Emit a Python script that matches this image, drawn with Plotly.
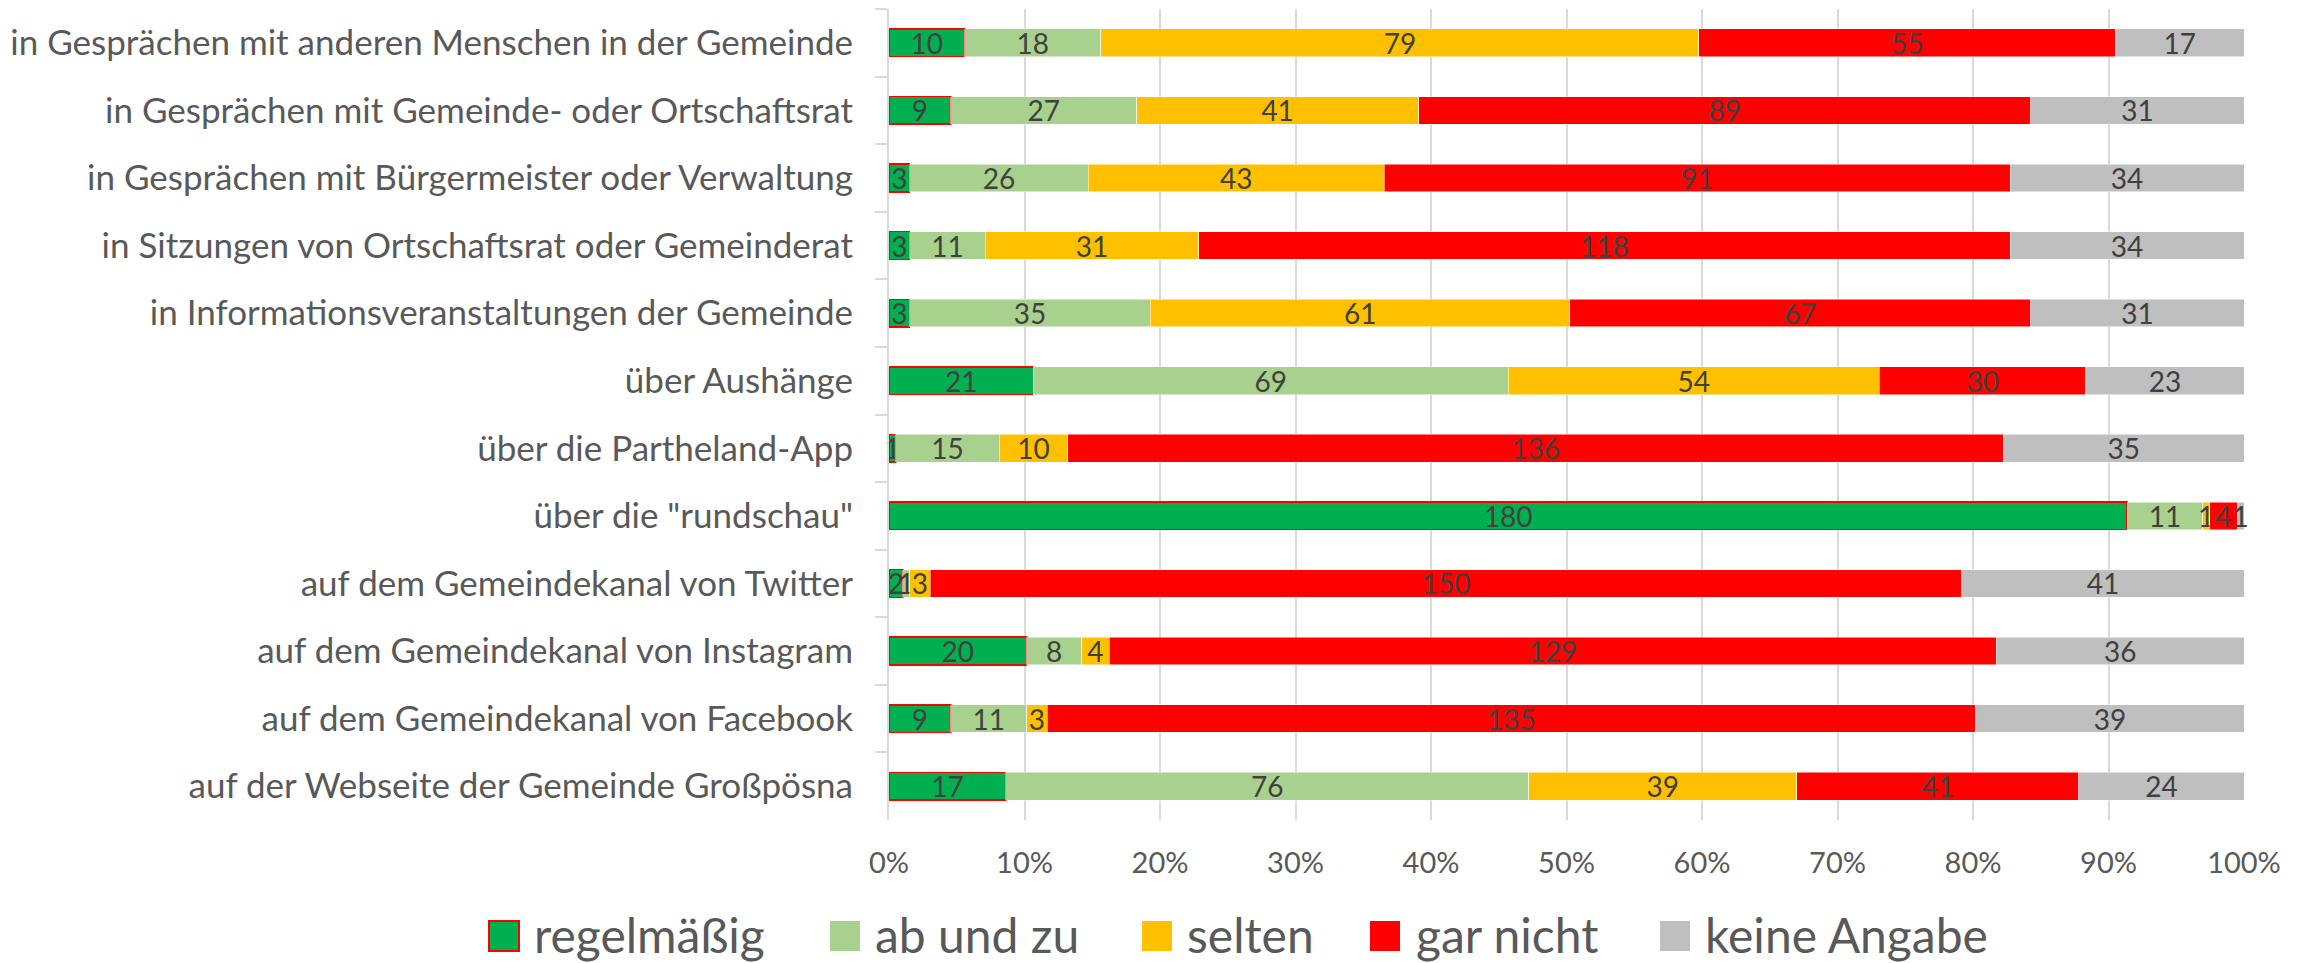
import plotly.graph_objects as go

categories = [
    "in Gesprächen mit anderen Menschen in der Gemeinde",
    "in Gesprächen mit Gemeinde- oder Ortschaftsrat",
    "in Gesprächen mit Bürgermeister oder Verwaltung",
    "in Sitzungen von Ortschaftsrat oder Gemeinderat",
    "in Informationsveranstaltungen der Gemeinde",
    "über Aushänge",
    "über die Partheland-App",
    "über die \"rundschau\"",
    "auf dem Gemeindekanal von Twitter",
    "auf dem Gemeindekanal von Instagram",
    "auf dem Gemeindekanal von Facebook",
    "auf der Webseite der Gemeinde Großpösna",
]

regelmaessig = [10, 9, 3, 3, 3, 21, 1, 180, 2, 20, 9, 17]
ab_und_zu = [18, 27, 26, 11, 35, 69, 15, 11, 1, 8, 11, 76]
selten = [79, 41, 43, 31, 61, 54, 10, 1, 3, 4, 3, 39]
gar_nicht = [55, 89, 91, 118, 67, 30, 136, 4, 150, 129, 135, 41]
keine_angabe = [17, 31, 34, 34, 31, 23, 35, 1, 41, 36, 39, 24]

tick_vals = [0, 10, 20, 30, 40, 50, 60, 70, 80, 90, 100]
tick_text = ["0%", "10%", "20%", "30%", "40%", "50%", "60%", "70%", "80%", "90%", "100%"]

series = [
    ("regelmäßig", regelmaessig, "#00B050", "#FF0000", 1.5),
    ("ab und zu", ab_und_zu, "#A9D18E", "#FFFFFF", 0.5),
    ("selten", selten, "#FFC000", "#FFFFFF", 0.5),
    ("gar nicht", gar_nicht, "#FF0000", "#FFFFFF", 0.5),
    ("keine Angabe", keine_angabe, "#BFBFBF", "#FFFFFF", 0.5),
]

FONT = "Lato"
W, H = 2305, 963
L, R, T, B = 889, 61, 9, 143
PW, PH = W - L - R, H - T - B


def px_x(px):
    return (px - L) / PW


def px_y(py):
    return (H - B - py) / PH


fig = go.Figure()
for name, vals, color, lcolor, lw in series:
    fig.add_trace(go.Bar(
        y=categories, x=vals, name=name, orientation="h",
        marker=dict(color=color, line=dict(color=lcolor, width=lw)),
        text=[str(v) for v in vals], textposition="inside",
        insidetextanchor="middle", textangle=0,
        textfont=dict(family=FONT, size=28, color="#404040"),
        cliponaxis=False, hoverinfo="skip", showlegend=False,
    ))

# manual legend (large square swatches like the original)
legend_sym_x = [489, 830, 1142, 1370, 1660]
legend_txt_x = [532, 873, 1185, 1414, 1703]
shapes, annotations = [], []
for (name, vals, color, lcolor, lw), sx, tx in zip(series, legend_sym_x, legend_txt_x):
    bordered = lcolor != "#FFFFFF"
    shapes.append(dict(
        type="rect", xref="paper", yref="paper",
        x0=px_x(sx), x1=px_x(sx + 30), y0=px_y(951), y1=px_y(921),
        fillcolor=color,
        line=dict(color=lcolor if bordered else color, width=2 if bordered else 0),
    ))
    annotations.append(dict(
        text=name, xref="paper", yref="paper", x=px_x(tx), y=px_y(934),
        xanchor="left", yanchor="middle", showarrow=False,
        font=dict(family=FONT, size=48, color="#595959"),
    ))

fig.update_layout(
    barmode="stack", barnorm="percent", bargap=0.59,
    width=W, height=H,
    margin=dict(l=L, r=R, t=T, b=B),
    paper_bgcolor="white", plot_bgcolor="white",
    font=dict(family=FONT, color="#595959"),
    uniformtext=dict(minsize=28, mode="show"),
    showlegend=False,
    shapes=shapes, annotations=annotations,
    xaxis=dict(range=[0, 100], tickvals=tick_vals, ticktext=tick_text,
               showgrid=True, gridcolor="#D9D9D9", gridwidth=2, zeroline=False,
               showline=False, ticks="", ticklabelstandoff=23,
               tickfont=dict(family=FONT, size=29, color="#595959")),
    yaxis=dict(autorange="reversed", showline=True, linecolor="#D9D9D9", linewidth=2,
               ticks="outside", tickson="boundaries", ticklen=12, tickcolor="#D9D9D9",
               tickwidth=2, ticklabelstandoff=27,
               tickfont=dict(family=FONT, size=35, color="#595959")),
)

fig.write_html("out.html",
               config={"displayModeBar": False},
               post_script="document.body.style.margin='0';document.body.style.overflow='hidden';")
